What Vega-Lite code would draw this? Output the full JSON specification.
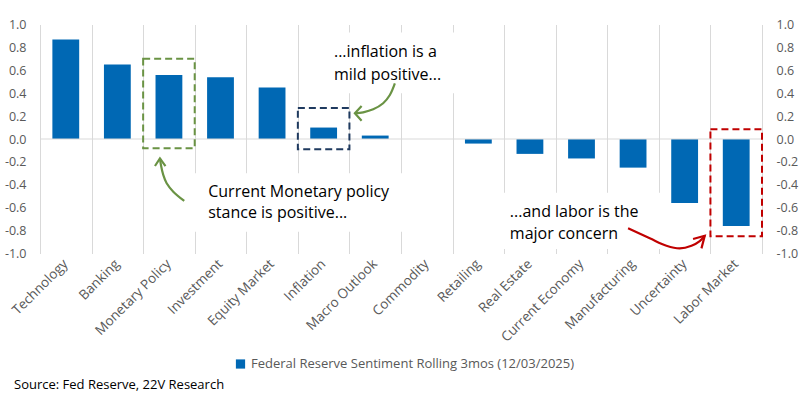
{
  "$schema": "https://vega.github.io/schema/vega-lite/v6.json",
  "width": 722,
  "height": 229,
  "autosize": {"type": "none"},
  "padding": {"left": 40, "top": 24.5, "right": 40, "bottom": 144.5},
  "config": {
    "view": {"stroke": null},
    "font": "Open Sans",
    "axis": {"labelFont": "Open Sans", "labelColor": "#595959", "labelFontSize": 12.5},
    "legend": {"labelFont": "Open Sans"}
  },
  "title": {
    "text": "Source: Fed Reserve, 22V Research",
    "orient": "bottom",
    "anchor": "start",
    "frame": "group",
    "dx": -26,
    "offset": 7,
    "fontSize": 13,
    "fontWeight": "normal",
    "color": "#000000",
    "font": "Open Sans"
  },
  "datasets": {
    "bars": [
      {"category": "Technology", "value": 0.87},
      {"category": "Banking", "value": 0.65},
      {"category": "Monetary Policy", "value": 0.56},
      {"category": "Investment", "value": 0.54},
      {"category": "Equity Market", "value": 0.45},
      {"category": "Inflation", "value": 0.10},
      {"category": "Macro Outlook", "value": 0.03},
      {"category": "Commodity", "value": 0.0},
      {"category": "Retailing", "value": -0.04},
      {"category": "Real Estate", "value": -0.13},
      {"category": "Current Economy", "value": -0.17},
      {"category": "Manufacturing", "value": -0.25},
      {"category": "Uncertainty", "value": -0.56},
      {"category": "Labor Market", "value": -0.76}
    ],
    "textboxes": [
      {"xq": 2.93, "xq2": 7.2, "yv": -0.30, "yv2": -0.81},
      {"xq": 5.6, "xq2": 8.15, "yv": 0.93, "yv2": 0.40},
      {"xq": 8.88, "xq2": 12.17, "yv": -0.47, "yv2": -0.96}
    ],
    "zero": [{"xq": 0, "xq2": 14, "yv": 0}],
    "boxes": [
      {"key": "mp", "xq": 2, "xq2": 3, "yv": 0.70, "yv2": -0.08},
      {"key": "inf", "xq": 5, "xq2": 6, "yv": 0.27, "yv2": -0.09},
      {"key": "lab", "xq": 13, "xq2": 14, "yv": 0.085, "yv2": -0.85}
    ],
    "arrows": [
      {"key": "mpArrow", "i": 0, "xq": 2.797, "yv": -0.541},
      {"key": "mpArrow", "i": 1, "xq": 2.584, "yv": -0.460},
      {"key": "mpArrow", "i": 2, "xq": 2.456, "yv": -0.387},
      {"key": "mpArrow", "i": 3, "xq": 2.390, "yv": -0.314},
      {"key": "mpArrow", "i": 4, "xq": 2.345, "yv": -0.227},
      {"key": "mpArrow", "i": 5, "xq": 2.326, "yv": -0.169},
      {"key": "infArrow", "i": 0, "xq": 6.881, "yv": 0.485},
      {"key": "infArrow", "i": 1, "xq": 6.784, "yv": 0.384},
      {"key": "infArrow", "i": 2, "xq": 6.654, "yv": 0.312},
      {"key": "infArrow", "i": 3, "xq": 6.461, "yv": 0.259},
      {"key": "infArrow", "i": 4, "xq": 6.267, "yv": 0.233},
      {"key": "infArrow", "i": 5, "xq": 6.106, "yv": 0.224},
      {"key": "labArrow", "i": 0, "xq": 11.403, "yv": -0.780},
      {"key": "labArrow", "i": 1, "xq": 11.824, "yv": -0.867},
      {"key": "labArrow", "i": 2, "xq": 12.148, "yv": -0.932},
      {"key": "labArrow", "i": 3, "xq": 12.405, "yv": -0.955},
      {"key": "labArrow", "i": 4, "xq": 12.632, "yv": -0.932},
      {"key": "labArrow", "i": 5, "xq": 12.793, "yv": -0.891},
      {"key": "labArrow", "i": 6, "xq": 12.890, "yv": -0.845}
    ],
    "heads": [
      {"key": "mpArrow", "i": 0, "xq": 2.229, "yv": -0.236},
      {"key": "mpArrow", "i": 1, "xq": 2.326, "yv": -0.169},
      {"key": "mpArrow", "i": 2, "xq": 2.433, "yv": -0.236},
      {"key": "infArrow", "i": 0, "xq": 6.236, "yv": 0.288},
      {"key": "infArrow", "i": 1, "xq": 6.106, "yv": 0.224},
      {"key": "infArrow", "i": 2, "xq": 6.236, "yv": 0.160},
      {"key": "labArrow", "i": 0, "xq": 12.663, "yv": -0.873},
      {"key": "labArrow", "i": 1, "xq": 12.890, "yv": -0.845},
      {"key": "labArrow", "i": 2, "xq": 12.826, "yv": -0.955}
    ],
    "labels": [
      {"line": "...inflation is a", "xq": 5.70, "yv": 0.76},
      {"line": "mild positive...", "xq": 5.70, "yv": 0.559},
      {"line": "Current Monetary policy", "xq": 3.262, "yv": -0.460},
      {"line": "stance is positive...", "xq": 3.262, "yv": -0.649},
      {"line": "...and labor is the", "xq": 9.11, "yv": -0.635},
      {"line": "major concern", "xq": 9.11, "yv": -0.832}
    ]
  },
  "layer": [
    {
      "data": {"name": "bars"},
      "mark": {"type": "bar"},
      "encoding": {
        "x": {
          "field": "category",
          "type": "nominal",
          "sort": null,
          "scale": {"paddingInner": 0.48, "paddingOuter": 0.24},
          "axis": {
            "title": null,
            "orient": "bottom",
            "labelAngle": -45,
            "labelAlign": "right",
            "labelBaseline": "middle",
            "labelPadding": 8,
            "labelFontSize": 13.5,
            "domain": false,
            "ticks": false,
            "grid": false
          }
        },
        "y": {
          "field": "value",
          "type": "quantitative",
          "scale": {"domain": [-1, 1], "nice": false, "zero": false},
          "axis": {
            "title": null,
            "orient": "left",
            "values": [-1, -0.8, -0.6, -0.4, -0.2, 0, 0.2, 0.4, 0.6, 0.8, 1],
            "labelExpr": "replace(format(datum.value, '.1f'), '\u2212', '-')",
            "domain": false,
            "ticks": false,
            "grid": false,
            "labelPadding": 14
          }
        },
        "y2": {"datum": 0},
        "color": {
          "datum": "Federal Reserve Sentiment Rolling 3mos (12/03/2025)",
          "type": "nominal",
          "scale": {"range": ["#0068B4"]},
          "legend": {
            "title": null,
            "orient": "none",
            "legendX": 194,
            "legendY": 333,
            "symbolType": "square",
            "symbolSize": 85,
            "symbolStrokeWidth": 0,
            "labelFontSize": 13,
            "labelColor": "#595959",
            "labelLimit": 500
          }
        }
      }
    },
    {
      "encoding": {
        "x": {
          "field": "xq",
          "type": "quantitative",
          "scale": {"domain": [0, 14], "nice": false, "zero": false},
          "axis": {
            "title": null,
            "orient": "top",
            "values": [0, 1, 2, 3, 4, 5, 6, 7, 8, 9, 10, 11, 12, 13, 14],
            "labels": false,
            "ticks": false,
            "domain": false,
            "grid": true,
            "gridColor": "#D9D9D9",
            "gridWidth": 1
          }
        },
        "y": {
          "field": "yv",
          "type": "quantitative",
          "scale": {"domain": [-1, 1], "nice": false, "zero": false},
          "axis": {
            "title": null,
            "orient": "right",
            "values": [-1, -0.8, -0.6, -0.4, -0.2, 0, 0.2, 0.4, 0.6, 0.8, 1],
            "labelExpr": "replace(format(datum.value, '.1f'), '\u2212', '-')",
            "domain": false,
            "ticks": false,
            "grid": false,
            "labelPadding": 14
          }
        }
      },
      "layer": [
        {
          "data": {"name": "textboxes"},
          "mark": {"type": "rect", "fill": "#FFFFFF", "stroke": null},
          "encoding": {"x2": {"field": "xq2"}, "y2": {"field": "yv2"}}
        },
        {
          "data": {"name": "zero"},
          "mark": {"type": "rule", "color": "#D9D9D9", "strokeWidth": 1},
          "encoding": {"x2": {"field": "xq2"}}
        },
        {
          "data": {"name": "boxes"},
          "mark": {"type": "rect", "filled": false, "strokeWidth": 2, "strokeDash": [7, 4]},
          "encoding": {
            "x2": {"field": "xq2"},
            "y2": {"field": "yv2"},
            "stroke": {
              "field": "key",
              "type": "nominal",
              "scale": {
                "domain": ["mp", "inf", "lab", "mpArrow", "infArrow", "labArrow"],
                "range": ["#6A9344", "#1F3A5F", "#C00000", "#6A9344", "#6A9344", "#C00000"]
              },
              "legend": null
            }
          }
        },
        {
          "data": {"name": "arrows"},
          "mark": {"type": "line", "strokeWidth": 2.2, "interpolate": "catmull-rom"},
          "encoding": {
            "order": {"field": "i", "type": "quantitative"},
            "detail": {"field": "key"},
            "stroke": {
              "field": "key",
              "type": "nominal",
              "scale": {
                "domain": ["mp", "inf", "lab", "mpArrow", "infArrow", "labArrow"],
                "range": ["#6A9344", "#1F3A5F", "#C00000", "#6A9344", "#6A9344", "#C00000"]
              },
              "legend": null
            }
          }
        },
        {
          "data": {"name": "heads"},
          "mark": {"type": "line", "strokeWidth": 2.2},
          "encoding": {
            "order": {"field": "i", "type": "quantitative"},
            "detail": {"field": "key"},
            "stroke": {
              "field": "key",
              "type": "nominal",
              "scale": {
                "domain": ["mp", "inf", "lab", "mpArrow", "infArrow", "labArrow"],
                "range": ["#6A9344", "#1F3A5F", "#C00000", "#6A9344", "#6A9344", "#C00000"]
              },
              "legend": null
            }
          }
        },
        {
          "data": {"name": "labels"},
          "mark": {"type": "text", "align": "left", "baseline": "middle", "fontSize": 16, "font": "Open Sans", "color": "#000000"},
          "encoding": {"text": {"field": "line"}}
        }
      ]
    }
  ],
  "resolve": {"scale": {"x": "independent", "y": "independent", "color": "independent"}}
}
